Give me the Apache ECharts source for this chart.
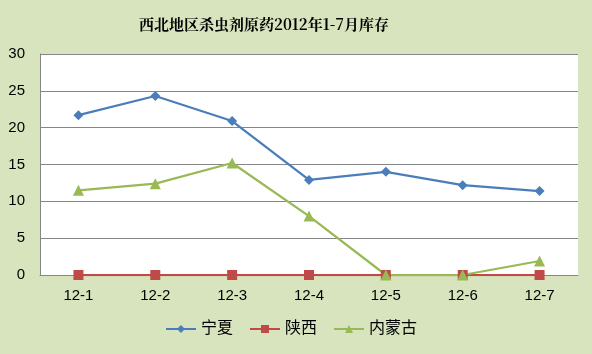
<!DOCTYPE html>
<html>
<head>
<meta charset="utf-8">
<script src="https://cdn.jsdelivr.net/npm/echarts@6/dist/echarts.min.js"></script>
<style>
  html, body { margin: 0; padding: 0; background: #d7e4bd; }
  #chart { width: 592px; height: 354px; }
</style>
</head>
<body>
<div id="chart"></div>
<script>
// ===== Data =====
const months = ['12-1', '12-2', '12-3', '12-4', '12-5', '12-6', '12-7'];
const ningxia = [21.7, 24.3, 20.9, 12.9, 14.0, 12.2, 11.4];
const shaanxi = [0, 0, 0, 0, 0, 0, 0];
const neimenggu = [11.5, 12.4, 15.2, 8.0, 0, 0, 1.9];

const chart = echarts.init(document.getElementById('chart'));
const font = "'Liberation Sans', 'Noto Sans CJK SC', sans-serif";

chart.setOption({
  backgroundColor: '#d7e4bd',
  animation: false,
  title: {
    text: '西北地区杀虫剂原药2012年1-7月库存',
    left: 134, top: 12,
    textStyle: { fontFamily: "'Noto Serif CJK SC', 'Liberation Serif', 'Noto Sans CJK SC', serif", fontSize: 15, fontWeight: 'bold', color: '#000' }
  },
  legend: {
    bottom: 12, left: 160,
    itemWidth: 30, itemHeight: 10, itemGap: 16,
    textStyle: { fontFamily: font, fontSize: 16, color: '#000' },
    data: ['宁夏', '陕西', '内蒙古']
  },
  grid: { left: 40, right: 14, top: 54, bottom: 79, show: true, backgroundColor: '#fff', borderWidth: 0 },
  xAxis: {
    type: 'category', data: months, boundaryGap: true,
    axisLine: { lineStyle: { color: '#868686' } },
    axisTick: { show: false },
    axisLabel: { fontFamily: font, fontSize: 15, color: '#000', margin: 13 }
  },
  yAxis: {
    type: 'value', min: 0, max: 30, interval: 5,
    axisLine: { show: true, lineStyle: { color: '#868686' } },
    axisTick: { show: false },
    splitLine: { lineStyle: { color: '#868686' } },
    axisLabel: { fontFamily: font, fontSize: 15, color: '#000', margin: 15 }
  },
  series: [
    { name: '宁夏', type: 'line', data: ningxia, symbol: 'diamond', symbolSize: 10,
      itemStyle: { color: '#4a7ebb' }, lineStyle: { width: 2.25 } },
    { name: '陕西', type: 'line', data: shaanxi, symbol: 'rect', symbolSize: 10,
      itemStyle: { color: '#be4b48' }, lineStyle: { width: 2.25 } },
    { name: '内蒙古', type: 'line', data: neimenggu, symbol: 'triangle', symbolSize: 11,
      itemStyle: { color: '#98b954' }, lineStyle: { width: 2.25 } }
  ]
});
</script>
</body>
</html>
